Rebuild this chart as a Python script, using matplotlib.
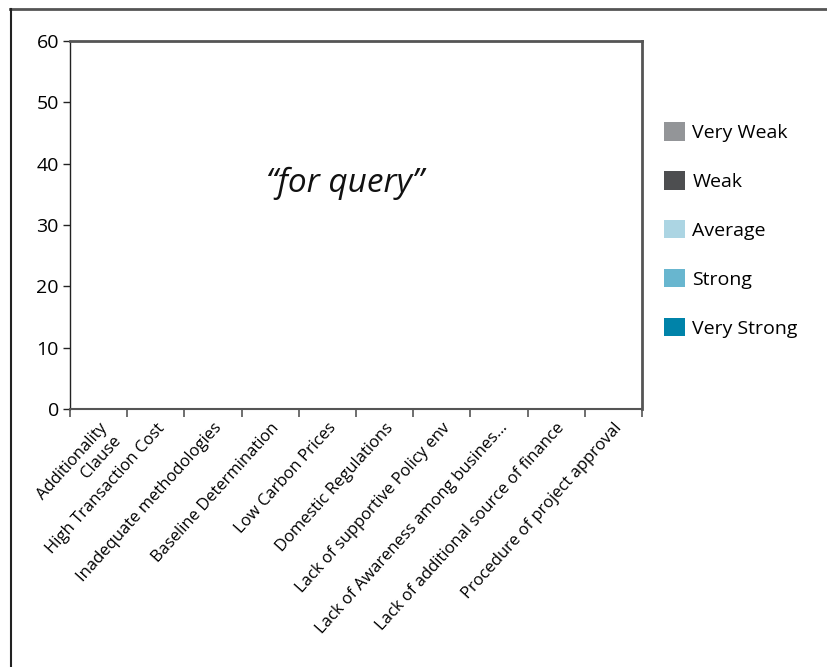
import numpy as np
import matplotlib
matplotlib.use("Agg")
import matplotlib.pyplot as plt
from matplotlib.lines import Line2D

plt.rcParams['font.family'] = ['Open Sans', 'DejaVu Sans']

# categories on the x axis
categories = ["Additionality\nClause", "High Transaction Cost", "Inadequate methodologies",
              "Baseline Determination", "Low Carbon Prices", "Domestic Regulations",
              "Lack of supportive Policy env", "Lack of Awareness among busines\u2026",
              "Lack of additional source of finance", "Procedure of project approval"]

# series (no bars visible in the chart -> all zero)
series_names = ["Very Weak", "Weak", "Average", "Strong", "Very Strong"]
very_weak = [0, 0, 0, 0, 0, 0, 0, 0, 0, 0]
weak = [0, 0, 0, 0, 0, 0, 0, 0, 0, 0]
average = [0, 0, 0, 0, 0, 0, 0, 0, 0, 0]
strong = [0, 0, 0, 0, 0, 0, 0, 0, 0, 0]
very_strong = [0, 0, 0, 0, 0, 0, 0, 0, 0, 0]
colors = ["#939598", "#4d4e50", "#acd5e3", "#68b6cf", "#0083a9"]

yticks = [0, 10, 20, 30, 40, 50, 60]

fig = plt.figure(figsize=(8.27, 6.67), dpi=100)
ax = fig.add_axes([70/827, 1-409/667, 572/827, 368/667])

x = np.arange(len(categories))
bottom = np.zeros(len(categories))
handles = []
for name, vals, c in zip(series_names, [very_weak, weak, average, strong, very_strong], colors):
    bars = ax.bar(x, vals, width=0.6, bottom=bottom, color=c, label=name)
    bottom += np.array(vals)
    handles.append(bars)

ax.set_xlim(-0.5, len(categories)-0.5)
ax.set_ylim(0, 60)
ax.set_yticks(yticks)
ax.tick_params(axis='y', labelsize=14, length=5, width=1, color='#222222', pad=3)

ax.set_xticks(x)
ax.set_xticklabels(categories, rotation=48, ha='right', rotation_mode='anchor',
                   fontsize=12, multialignment='right')
ax.tick_params(axis='x', which='major', length=0, pad=8)
ax.set_xticks(np.arange(len(categories)+1)-0.5, minor=True)
ax.tick_params(axis='x', which='minor', length=6, width=1.2, color='#555555')

ax.spines['left'].set_color('#222222')
ax.spines['left'].set_linewidth(1)
for s in ['top', 'right']:
    ax.spines[s].set_color('#555555')
    ax.spines[s].set_linewidth(2)
ax.spines['bottom'].set_color('#555555')
ax.spines['bottom'].set_linewidth(1.5)

ax.text(0.481, 0.614, "\u201cfor query\u201d", transform=ax.transAxes, ha='center', va='center',
        fontsize=24, style='italic', color='#111111')

leg = fig.legend(handles=handles, labels=series_names, loc='center left',
                 bbox_to_anchor=(646/827, 1-230/667), frameon=False, fontsize=14,
                 handlelength=1.08, handleheight=1.08, handletextpad=0.4, labelspacing=1.5)

# outer frame (only top and left are visible)
fig.add_artist(Line2D([10/827, 1], [1-8.5/667, 1-8.5/667], transform=fig.transFigure,
                      color='#555555', lw=2))
fig.add_artist(Line2D([10.5/827, 10.5/827], [0, 1-8.5/667], transform=fig.transFigure,
                      color='#222222', lw=1.5))

fig.savefig("out.png", dpi=100)
